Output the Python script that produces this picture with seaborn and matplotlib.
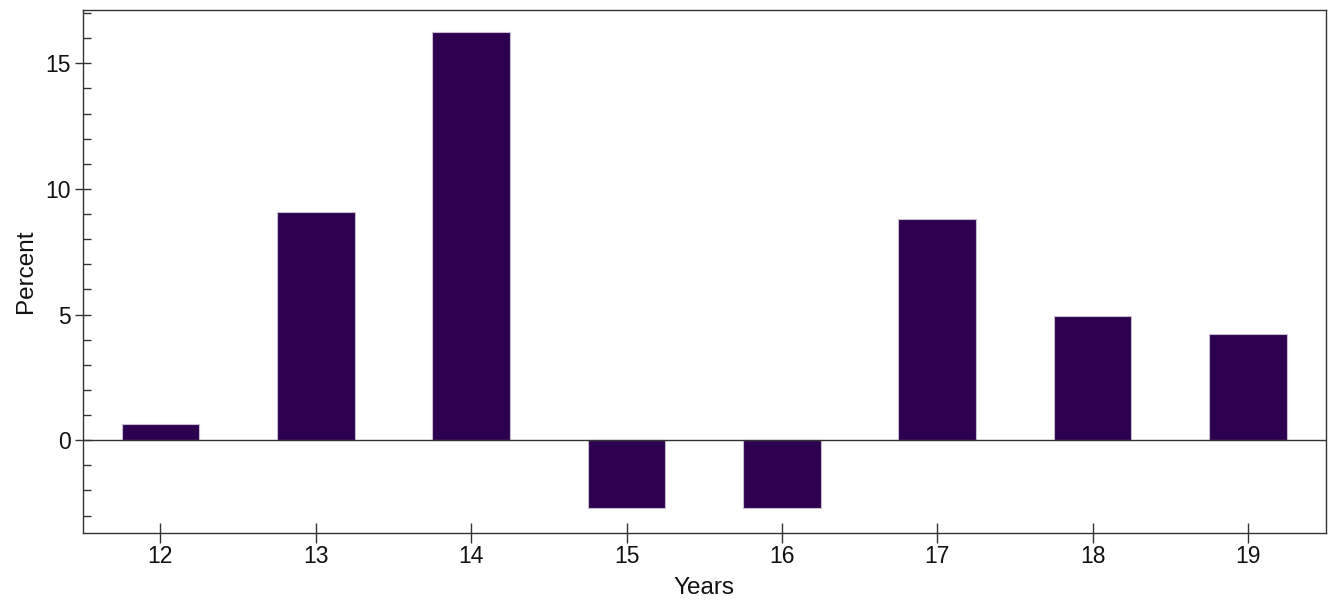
import matplotlib
matplotlib.use("Agg")
import matplotlib.pyplot as plt
import seaborn as sns
import pandas as pd
from matplotlib.ticker import MultipleLocator

years = ["12", "13", "14", "15", "16", "17", "18", "19"]
percent = [0.65, 9.08, 16.25, -2.68, -2.68, 8.8, 4.95, 4.22]

sns.set_theme(style="white")
plt.rcParams['font.family'] = ['Liberation Sans', 'DejaVu Sans']

df = pd.DataFrame({"Years": years, "Percent": percent})

fig = plt.figure(figsize=(13.3, 6.01), dpi=100)
ax = fig.add_axes([82.7/1330, 1 - 532.7/601, (1325.7 - 82.7)/1330, (532.7 - 10)/601])

sns.barplot(data=df, x="Years", y="Percent", order=years, color="#2d004f",
            saturation=1, width=0.5, ax=ax, edgecolor="#c8bcd0", linewidth=0.8)

ax.axhline(0, color="#333333", linewidth=1.0, zorder=3)
ax.set_xlim(-0.5, 7.5)
ax.set_ylim(-3.68, 17.12)
ax.yaxis.set_major_locator(MultipleLocator(5))
ax.yaxis.set_minor_locator(MultipleLocator(1))

for s in ax.spines.values():
    s.set_color("#333333")
    s.set_linewidth(1.0)

ax.tick_params(axis="y", which="major", direction="inout", length=11.5, width=1,
               color="#333333", labelsize=16.5, pad=3, left=True)
ax.tick_params(axis="y", which="minor", direction="in", length=5.8, width=1,
               color="#333333", left=True)
ax.tick_params(axis="x", which="major", direction="inout", length=14.4, width=1,
               color="#333333", labelsize=16.5, pad=2, bottom=True)

ax.set_xlabel("Years", fontsize=17.5, labelpad=6, color="#111111")
ax.set_ylabel("Percent", fontsize=17.5, labelpad=6, color="#111111")
for t in ax.get_xticklabels() + ax.get_yticklabels():
    t.set_color("#111111")

fig.savefig("out.png", dpi=100)
